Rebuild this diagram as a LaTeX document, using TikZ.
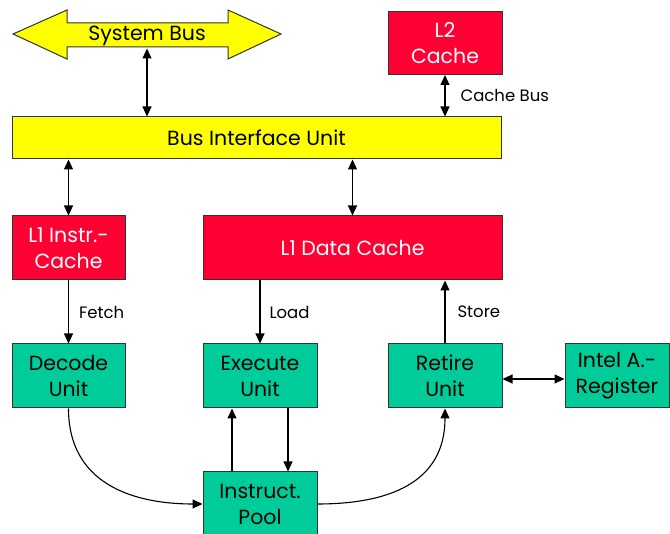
\documentclass[tikz,border=0pt]{standalone}
\usepackage{fontspec}
\setmainfont{Poppins}
\usetikzlibrary{arrows.meta}
\definecolor{cachered}{HTML}{FF0033}
\definecolor{unitgreen}{HTML}{00CC99}
\definecolor{busyellow}{HTML}{FFFF00}
\tikzset{
  box/.style={draw=black!80,line width=1pt,align=center,inner sep=0pt,
    font=\fontsize{20.5}{26}\selectfont},
  cachebox/.style={box,fill=cachered,text=white},
  unitbox/.style={box,fill=unitgreen,minimum width=114,minimum height=64},
  link/.style={line width=1.1pt,>={Triangle[width=9pt,length=10pt]}},
  tag/.style={font=\fontsize{16.5}{19}\selectfont,inner sep=0pt}
}

\begin{document}
\begin{tikzpicture}[x=1pt,y=-1pt]
    \useasboundingbox (0,0) rectangle (670,534);

    \fill [busyellow,draw=black!80,line width=1pt]
        (13,34) -- (67,10) -- (67,23) -- (228,23) -- (228,10) -- (281,34)
        -- (228,59) -- (228,47) -- (67,47) -- (67,59) -- cycle;
    \node [box,minimum width=160,minimum height=24,draw=none] (sb) at (147,36) {System Bus};

    \node [cachebox,minimum width=114,minimum height=63] (l2) at (445,43) {L2\\Cache};
    \node [box,fill=busyellow,minimum width=489,minimum height=42] (biu) at (256.5,138) {Bus Interface Unit};

    \node [cachebox,minimum width=113,minimum height=64] (l1i) at (68.5,248) {L1 Instr.-\\Cache};
    \node [cachebox,minimum width=299,minimum height=64] (l1d) at (352.5,248) {L1 Data Cache};

    \node [unitbox,minimum width=113] (dec) at (68.5,376) {Decode\\Unit};
    \node [unitbox] (exe) at (260,376) {Execute\\Unit};
    \node [unitbox] (ret) at (445,376) {Retire\\Unit};
    \node [unitbox,minimum width=104] (reg) at (617,376) {Intel A.-\\Register};
    \node [unitbox] (pool) at (260,504) {Instruct.\\Pool};

    \draw [link,<->] (sb.south) -- (sb.south |- biu.north);
    \draw [link,<->] (l2.south) -- (l2.south |- biu.north)
        node [tag,midway,right=15pt] {Cache Bus};
    \draw [link,<->] (l1i.north |- biu.south) -- (l1i.north);
    \draw [link,<->] (l1d.north |- biu.south) -- (l1d.north);

    \draw [link,->] (l1i.south) -- (dec.north)
        node [tag,midway,right=10pt] {Fetch};
    \draw [link,->] (exe.north |- l1d.south) -- (exe.north)
        node [tag,midway,right=9pt] {Load};
    \draw [link,->] (ret.north) -- (ret.north |- l1d.south)
        node [tag,midway,right=12pt] {Store};
    \draw [link,<->] ([yshift=-3pt]ret.east) -- ([yshift=-3pt]reg.west);

    \draw [link,->] ([xshift=-28pt]pool.north) -- ([xshift=-28pt]exe.south);
    \draw [link,->] ([xshift=28pt]exe.south) -- ([xshift=28pt]pool.north);
    \draw [link,->] (dec.south) .. controls +(0,75) and +(-70,0) .. (pool.west);
    \draw [link,->] (pool.east) .. controls +(70,0) and +(0,75) .. (ret.south);
\end{tikzpicture}
\end{document}
